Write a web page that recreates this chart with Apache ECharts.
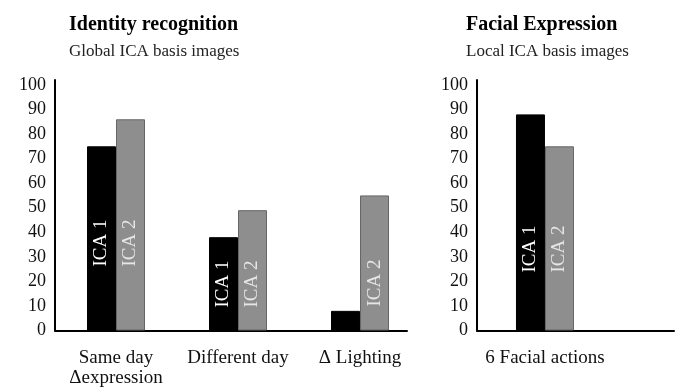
<!DOCTYPE html>
<html>
<head>
<meta charset="utf-8">
<script src="https://cdn.jsdelivr.net/npm/echarts@6/dist/echarts.min.js"></script>
<style>html,body{margin:0;padding:0;background:#fff;}#c{width:678px;height:387px;}</style>
</head>
<body>
<div id="c"></div>
<script>
// ---- data ----
const leftCategories = ['Same day\n\u0394expression', 'Different day', '\u0394 Lighting'];
const leftICA1 = [75, 38, 8];
const leftICA2 = [86, 49, 55];
const rightCategories = ['6 Facial actions'];
const rightICA1 = [88];
const rightICA2 = [75];
const yTicks = [0, 10, 20, 30, 40, 50, 60, 70, 80, 90, 100];
const seriesNames = ['ICA 1', 'ICA 2'];

// ---- styling (not data) ----
const FONT = '"Liberation Serif", "Times New Roman", serif';
const leftLabelLift1 = [64, 23, null];
const leftLabelLift2 = [64, 23, 24];
const rightLabelLift1 = [58];
const rightLabelLift2 = [58];

function items(vals, lifts) {
  return vals.map((v, i) => {
    const it = { value: [i + 0.5, v] };
    if (lifts[i] === null) it.label = { show: false };
    else it.label = { distance: lifts[i] };
    return it;
  });
}

function xAxisFor(gridIndex, cats, max) {
  return {
    type: 'value', gridIndex, min: 0, max, interval: 0.5,
    axisLine: { show: true, onZero: false, lineStyle: { color: '#000', width: 2 } },
    axisTick: { show: false }, splitLine: { show: false },
    axisLabel: {
      margin: 18, fontFamily: FONT, fontSize: 19, color: '#111', lineHeight: 20,
      showMaxLabel: false,
      formatter: function (v) {
        const k = v - 0.5;
        if (Math.abs(k - Math.round(k)) < 1e-6 && cats[Math.round(k)] !== undefined) return cats[Math.round(k)];
        return '';
      }
    }
  };
}
function yAxisFor(gridIndex) {
  return {
    type: 'value', gridIndex, min: 0, max: 102, interval: 10,
    axisLine: { show: true, lineStyle: { color: '#000', width: 2 } },
    axisTick: { show: false }, splitLine: { show: false },
    axisLabel: {
      margin: 9, fontFamily: FONT, fontSize: 18, color: '#111',
      formatter: function (v) { return yTicks.indexOf(v) >= 0 ? String(v) : ''; }
    }
  };
}
function barSeries(name, idx, data, color, border, labelColor) {
  return {
    name, type: 'bar', xAxisIndex: idx, yAxisIndex: idx, data,
    barWidth: 29, barGap: '0%',
    itemStyle: { color, borderColor: border, borderWidth: 1 },
    label: {
      show: true, formatter: name, position: 'insideBottom', rotate: 90,
      align: 'left', verticalAlign: 'middle',
      fontFamily: FONT, fontSize: 19, color: labelColor
    },
    emphasis: { disabled: true }, animation: false
  };
}

const chart = echarts.init(document.getElementById('c'));
chart.setOption({
  backgroundColor: '#fff',
  animation: false,
  title: [
    { text: 'Identity recognition', subtext: 'Global ICA basis images', left: 64, top: 10, itemGap: 8,
      textStyle: { fontFamily: FONT, fontSize: 20, fontWeight: 'bold', color: '#000' },
      subtextStyle: { fontFamily: FONT, fontSize: 17, color: '#222' } },
    { text: 'Facial Expression', subtext: 'Local ICA basis images', left: 461, top: 10, itemGap: 8,
      textStyle: { fontFamily: FONT, fontSize: 20, fontWeight: 'bold', color: '#000' },
      subtextStyle: { fontFamily: FONT, fontSize: 17, color: '#222' } }
  ],
  grid: [
    { left: 55, top: 80, width: 352, bottom: 56.5, containLabel: false, outerBoundsMode: 'none' },
    { left: 477, top: 80, width: 197, bottom: 56.5, containLabel: false, outerBoundsMode: 'none' }
  ],
  xAxis: [xAxisFor(0, leftCategories, 2.885), xAxisFor(1, rightCategories, 1.449)],
  yAxis: [yAxisFor(0), yAxisFor(1)],
  series: [
    barSeries(seriesNames[0], 0, items(leftICA1, leftLabelLift1), '#000', '#000', '#fff'),
    barSeries(seriesNames[1], 0, items(leftICA2, leftLabelLift2), '#8e8e8e', '#666', '#e6e6e6'),
    barSeries(seriesNames[0], 1, items(rightICA1, rightLabelLift1), '#000', '#000', '#fff'),
    barSeries(seriesNames[1], 1, items(rightICA2, rightLabelLift2), '#8e8e8e', '#666', '#e6e6e6')
  ]
});
</script>
</body>
</html>
